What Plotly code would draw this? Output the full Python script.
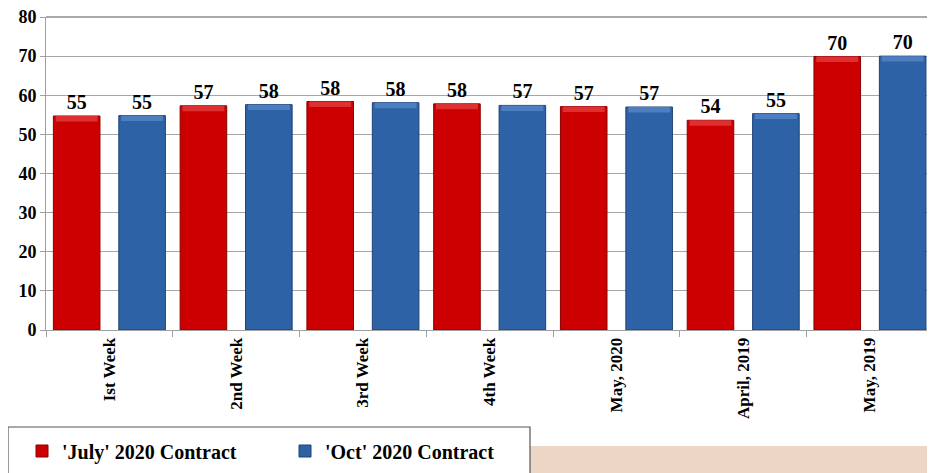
import plotly.graph_objects as go

categories = ["Ist Week", "2nd Week", "3rd Week", "4th Week", "May, 2020", "April, 2019", "May, 2019"]
july_2020 = [54.7, 57.3, 58.4, 57.8, 57.1, 53.6, 69.9]
oct_2020 = [54.8, 57.6, 58.1, 57.4, 57.0, 55.3, 70.0]
series_names = ["'July' 2020 Contract", "'Oct' 2020 Contract"]
y_ticks = [0, 10, 20, 30, 40, 50, 60, 70, 80]

# page body has an 8px margin: work in window pixels, convert to figure pixels
OFF = 8
W, H = 935 - 2 * OFF, 473 - OFF
ML, MR, MT, MB = 46 - OFF, 0, 17 - OFF, 473 - 330
PH = H - MT - MB  # plot height in px
PW = W - ML - MR


def py(p):
    """window pixel y -> paper y"""
    return (330 - p) / PH


def px(p):
    """window pixel x -> paper x"""
    return (p - 46) / PW


FONT = "Liberation Serif"
bar_w = 0.3675
bevel = 1.4  # height of the lighter top bevel, in data units

fig = go.Figure()


def add_series(values, name, color, edge, light, offset):
    fig.add_trace(go.Bar(
        x=categories, y=values, name=name,
        width=bar_w, offset=offset,
        marker=dict(color=color, line=dict(color=edge, width=1)),
        texttemplate="%{y:.0f}", textposition="outside",
        textfont=dict(family=FONT, size=20, color="black", weight="bold"),
        cliponaxis=False,
    ))
    fig.add_trace(go.Bar(
        x=categories, y=[bevel] * len(values), base=[v - bevel for v in values],
        width=bar_w * 0.9, offset=offset + bar_w * 0.05,
        marker=dict(color=light, line=dict(width=0)),
        showlegend=False, hoverinfo="skip",
    ))


add_series(july_2020, series_names[0], "#cc0000", "#8a0000", "#de3030", -0.4418)
add_series(oct_2020, series_names[1], "#2e62a6", "#1f4275", "#4d7fc0", 0.0743)

shapes = [
    # bottom decorative band
    dict(type="rect", xref="paper", yref="paper", x0=px(0), x1=px(935),
         y0=py(446), y1=py(476), fillcolor="#ecd6c6", line=dict(width=0), layer="below"),
    # legend box
    dict(type="rect", xref="paper", yref="paper", x0=px(8), x1=px(530),
         y0=py(427), y1=py(478), fillcolor="white", line=dict(color="#555555", width=1.2), layer="below"),
    # top border line
    dict(type="line", xref="paper", yref="paper", x0=0, x1=1, y0=1, y1=1,
         line=dict(color="#555555", width=1.2)),
]

fig.update_layout(
    width=W, height=H,
    margin=dict(l=ML, r=MR, t=MT, b=MB, pad=0),
    paper_bgcolor="white", plot_bgcolor="white",
    barmode="overlay",
    showlegend=True,
    legend=dict(orientation="h", x=px(22), xanchor="left", y=py(451), yanchor="middle",
                font=dict(family=FONT, size=20, color="black", weight="bold"),
                bgcolor="rgba(0,0,0,0)", borderwidth=0,
                entrywidth=218, entrywidthmode="pixels", traceorder="normal"),
    shapes=shapes,
    xaxis=dict(
        type="category", range=[-0.5, 6.45],
        tickangle=-90, tickfont=dict(family=FONT, size=17, color="black", weight="bold"),
        showline=True, linecolor="#a0a0a0", linewidth=1,
        ticks="outside", tickson="boundaries", ticklen=6, tickcolor="#a0a0a0",
        showgrid=False, ticklabeloverflow="allow",
    ),
    yaxis=dict(
        range=[0, 80], tickvals=y_ticks,
        tickfont=dict(family=FONT, size=18, color="black", weight="bold"),
        showline=True, linecolor="#a0a0a0", linewidth=1,
        ticks="outside", ticklen=5, tickcolor="#a0a0a0",
        showgrid=True, gridcolor="#a6a6a6", gridwidth=1, zeroline=False,
        ticklabeloverflow="allow",
    ),
)

fig.write_html("out.html")
